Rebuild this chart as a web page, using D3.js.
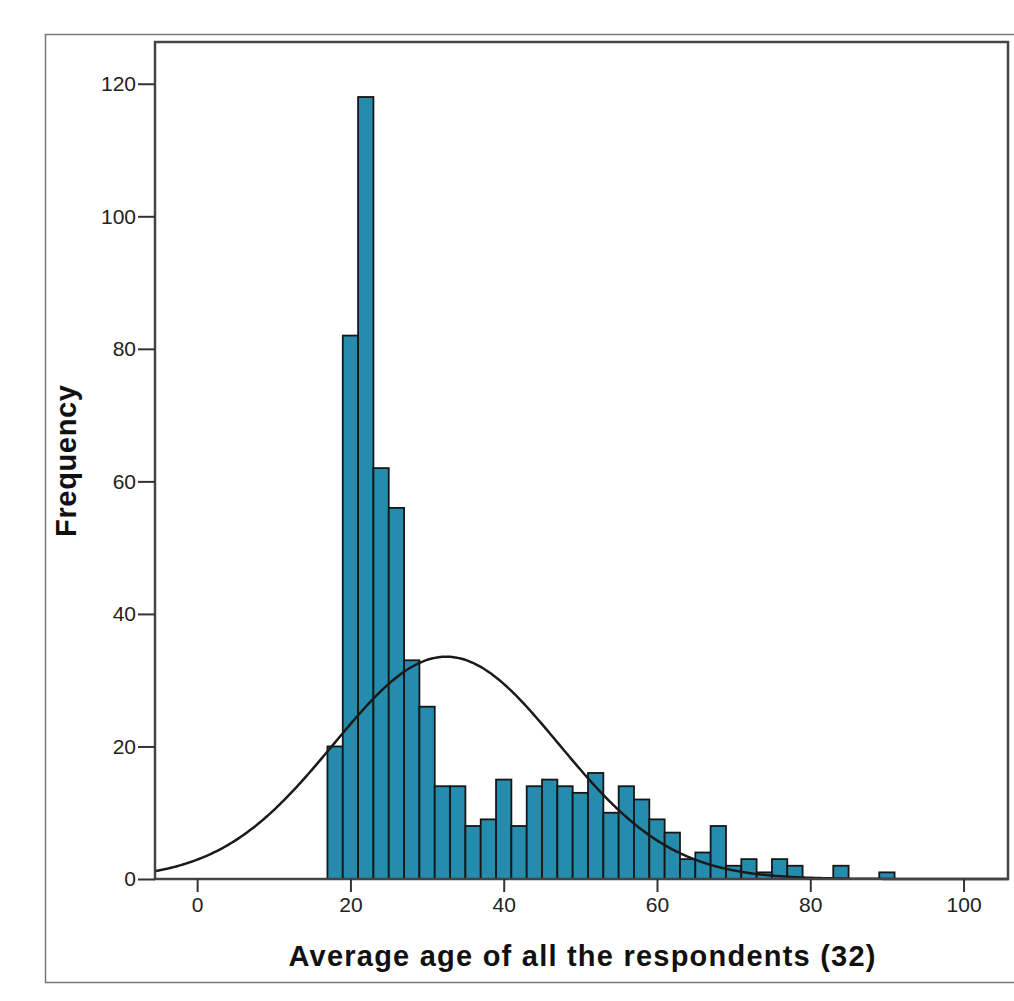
<!DOCTYPE html>
<html>
<head>
<meta charset="utf-8">
<script src="https://cdn.jsdelivr.net/npm/d3@7"></script>
<style>
  body { margin: 0; background: #fff; }
  svg { display: block; }
</style>
</head>
<body>
<script>
const w = 1014;
const h = 1001;

// histogram bins (lower edge of each 2-year bin) and frequencies
const binStarts = [17, 19, 21, 23, 25, 27, 29, 31, 33, 35, 37, 39, 41, 43, 45, 47, 49, 51, 53, 55,
                   57, 59, 61, 63, 65, 67, 69, 71, 73, 75, 77, 79, 81, 83, 85, 87, 89];
const counts    = [20, 82, 118, 62, 56, 33, 26, 14, 14, 8, 9, 15, 8, 14, 15, 14, 13, 16, 10, 14,
                   12, 9, 7, 3, 4, 8, 2, 3, 1, 3, 2, 0, 0, 2, 0, 0, 1];
const binWidth = 2;

const xTicks = [0, 20, 40, 60, 80, 100];
const yTicks = [0, 20, 40, 60, 80, 100, 120];

// fitted normal curve parameters
const curveMean = 32.5;
const curveSd = 14.7;
const curveN = 618;

const xTitle = "Average age of all the respondents (32)";
const yTitle = "Frequency";

const plot = { left: 155, top: 42, right: 1008, bottom: 879 };

const svg = d3.select("body")
    .append("svg")
    .attr("width", w)
    .attr("height", h);

// outer frame
svg.append("rect")
    .attr("x", 45.5)
    .attr("y", 34.5)
    .attr("width", 1000)
    .attr("height", 948)
    .attr("fill", "none")
    .attr("stroke", "#777")
    .attr("stroke-width", 1.5);

const xScale = d3.scaleLinear()
    .domain([-5.5, 105.8])
    .range([plot.left, plot.right]);

const yScale = d3.scaleLinear()
    .domain([0, 126.3])
    .range([plot.bottom, plot.top]);

const bins = binStarts.map((s, i) => ({ x0: s, x1: s + binWidth, n: counts[i] }));

svg.append("g")
    .selectAll("rect")
    .data(bins.filter(d => d.n > 0))
    .join("rect")
    .attr("x", d => xScale(d.x0))
    .attr("y", d => yScale(d.n))
    .attr("width", d => xScale(d.x1) - xScale(d.x0))
    .attr("height", d => yScale(0) - yScale(d.n))
    .attr("fill", "#268cae")
    .attr("stroke", "#161616")
    .attr("stroke-width", 1.8);

// normal curve
const curvePts = d3.range(-5.5, 105.9, 0.25).map(x => {
    const z = (x - curveMean) / curveSd;
    return [x, curveN * binWidth / (curveSd * Math.sqrt(2 * Math.PI)) * Math.exp(-0.5 * z * z)];
});

svg.append("path")
    .datum(curvePts)
    .attr("fill", "none")
    .attr("stroke", "#1a1a1a")
    .attr("stroke-width", 2.5)
    .attr("d", d3.line()
        .x(d => xScale(d[0]))
        .y(d => yScale(d[1]))
        .curve(d3.curveBasis));

// plot frame
svg.append("rect")
    .attr("x", plot.left)
    .attr("y", plot.top)
    .attr("width", plot.right - plot.left)
    .attr("height", plot.bottom - plot.top)
    .attr("fill", "none")
    .attr("stroke", "#444")
    .attr("stroke-width", 2.5);

const xAxis = d3.axisBottom(xScale)
    .tickValues(xTicks)
    .tickSize(13)
    .tickPadding(5);

const yAxis = d3.axisLeft(yScale)
    .tickValues(yTicks)
    .tickSize(17)
    .tickPadding(2);

const gx = svg.append("g")
    .attr("transform", "translate(0, " + plot.bottom + ")")
    .call(xAxis);

const gy = svg.append("g")
    .attr("transform", "translate(" + plot.left + ", 0)")
    .call(yAxis);

[gx, gy].forEach(g => {
    g.select(".domain").remove();
    g.selectAll(".tick line").attr("stroke", "#333").attr("stroke-width", 2);
    g.selectAll(".tick text")
        .attr("fill", "#222")
        .style("font-family", "'Liberation Sans', Arial, sans-serif")
        .style("font-size", "21px");
});

svg.append("text")
    .attr("x", 582)
    .attr("y", 966)
    .attr("text-anchor", "middle")
    .attr("textLength", 587)
    .attr("lengthAdjust", "spacing")
    .style("font-family", "'Liberation Sans', Arial, sans-serif")
    .style("font-weight", "bold")
    .style("font-size", "29px")
    .attr("fill", "#111")
    .text(xTitle);

svg.append("text")
    .attr("transform", "translate(76, 461) rotate(-90)")
    .attr("text-anchor", "middle")
    .attr("textLength", 152)
    .attr("lengthAdjust", "spacing")
    .style("font-family", "'Liberation Sans', Arial, sans-serif")
    .style("font-weight", "bold")
    .style("font-size", "29px")
    .attr("fill", "#111")
    .text(yTitle);
</script>
</body>
</html>
